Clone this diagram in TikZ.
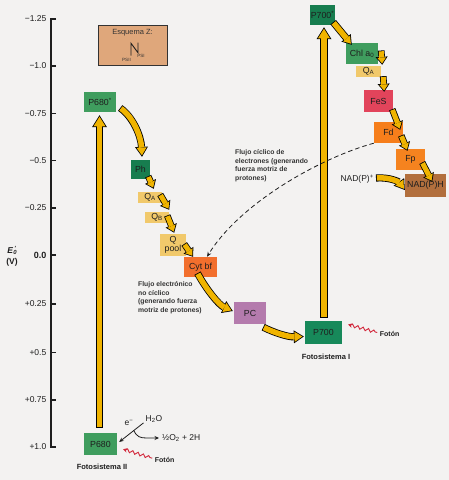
\documentclass[tikz,border=0pt]{standalone}
\usepackage{fontspec}
\setmainfont{Liberation Sans}
\usetikzlibrary{arrows.meta,decorations.pathmorphing,calc}
\definecolor{bgc}{HTML}{F3F2F1}
\definecolor{ygold}{HTML}{F0B400}
\definecolor{gA}{HTML}{3F9D5E}
\definecolor{gB}{HTML}{177D4F}
\definecolor{gC}{HTML}{17895A}
\definecolor{qy}{HTML}{F1C96B}
\definecolor{cytc}{HTML}{F26F2D}
\definecolor{pcc}{HTML}{B47BAD}
\definecolor{fesc}{HTML}{E2445B}
\definecolor{fdc}{HTML}{F67E1B}
\definecolor{fpc}{HTML}{F5831F}
\definecolor{nadc}{HTML}{B26F3D}
\definecolor{esqc}{HTML}{DFA77B}
\definecolor{phr}{HTML}{D2283C}
\definecolor{txt}{HTML}{1E1E1E}
\definecolor{gtx}{HTML}{333333}
\def\ow{0.8}
\newcommand\fat[4]{%
 \pgfmathsetmacro\fatS{\ow/sin(atan(#2/(2*#3)))}%
 \pgfmathsetmacro\fatL{#3-\ow-\fatS}%
 \pgfmathsetmacro\fatW{#2*\fatL/#3}%
 \pgfmathsetmacro\fatO{#1+2*\ow}%
 \draw[line width=\fatO pt, draw=black, -{Triangle[length=#3pt,width=#2pt,line width=0pt]}] #4;
 \draw[line width=#1pt, draw=ygold, shorten <=\ow pt, shorten >=\fatS pt, -{Triangle[length=\fatL pt,width=\fatW pt,line width=0pt]}] #4;
}
\tikzset{
 box/.style={rectangle, inner sep=0pt, text=txt, font=\fontsize{8.8}{9.5}\selectfont},
 axl/.style={anchor=east, inner sep=0pt, text=txt, font=\fontsize{8.5}{9.5}\selectfont},
 note/.style={anchor=north west, align=left, inner sep=0pt, text=gtx, font=\bfseries\fontsize{6.8}{8.6}\selectfont},
 lbl/.style={inner sep=1pt, text=txt, font=\fontsize{8.5}{9.5}\selectfont},
 fsys/.style={inner sep=0pt, text=txt, font=\bfseries\fontsize{7.5}{9}\selectfont},
 foton/.style={anchor=west, inner sep=0pt, text=txt, font=\bfseries\fontsize{7}{8}\selectfont},
 wave/.style={draw=phr, line width=0.9pt, decorate, decoration={snake, amplitude=1.5pt, segment length=5.5pt, pre length=2.5pt, post length=0.5pt}, {Stealth[length=4pt,width=4.5pt]}-},
 axis/.style={line width=1.1pt, draw=txt},
 thin/.style={line width=0.8pt, draw=txt, -{Stealth[length=4.5pt,width=4pt]}}
}
\begin{document}
\begin{tikzpicture}[x=1pt,y=-1pt]
\useasboundingbox (0,0) rectangle (449,480);
\fill[bgc] (0,0) rectangle (449,480);

% axis
\draw[axis] (56,19) -- (51,19) -- (51,447) -- (56,447);
\foreach \yy in {66,113.5,160.5,208,255,304,352.5,400} \draw[axis] (51,\yy) -- (56,\yy);
\foreach \yy/\tt in {19/−1.25,66/−1.0,113.5/−0.75,160.5/−0.5,208/−0.25,304/+0.25,352.5/+0.5,400/+0.75,447/+1.0}
  \node[axl] at (46.5,\yy) {\tt};
\node[axl, font=\bfseries\fontsize{9}{10}\selectfont] at (46.5,255) {0.0};
\node[inner sep=0pt, text=txt, font=\bfseries\fontsize{8.5}{11}\selectfont, align=center] (elab) at (12,256.5) {\textit{E}\rlap{\textsubscript{\textit{0}}}\textsuperscript{\,\textit{′}}\\(V)};

% Esquema Z
\node[box, fill=esqc, draw=black!80, line width=0.9pt, minimum width=69pt, minimum height=40pt] (esq) at (132.5,45) {};
\node[inner sep=0pt, text=gtx, font=\fontsize{7.5}{8}\selectfont] (esqt) at (132.5,32.5) {Esquema Z:};
\draw[line width=0.9pt, draw=txt] (131,55.7) -- (131,43.3) -- (138,52.7) -- (138,42.7);
\node[inner sep=0pt, text=gtx, font=\fontsize{4.6}{5}\selectfont] (psii) at (126.5,59.5) {PSII};
\node[inner sep=0pt, text=gtx, font=\fontsize{4.6}{5}\selectfont] (psi) at (141,56) {PSI};

% boxes
\node[box, fill=gA, minimum width=32pt, minimum height=20pt] (p680s) at (100,102) {P680\textsuperscript{*}};
\node[box, fill=gB, minimum width=19pt, minimum height=19pt] (ph) at (140.5,169.5) {Ph};
\node[box, fill=qy, minimum width=24pt, minimum height=11pt] (qa1) at (150,197.5) {Q\textsubscript{A}};
\node[box, fill=qy, minimum width=24pt, minimum height=11pt] (qb) at (157,217.5) {Q\textsubscript{B}};
\node[box, fill=qy, minimum width=26pt, minimum height=22pt, align=center, font=\fontsize{8.8}{9}\selectfont] (qpool) at (173,245) {Q\\pool};
\node[box, fill=cytc, minimum width=33pt, minimum height=20pt] (cyt) at (200.5,267) {Cyt bf};
\node[box, fill=pcc, minimum width=32pt, minimum height=22pt] (pc) at (250,313) {PC};
\node[box, fill=gC, minimum width=37pt, minimum height=23pt] (p700) at (323.5,332.5) {P700};
\node[box, fill=gB, minimum width=25pt, minimum height=20pt] (p700s) at (322.5,15) {P700\textsuperscript{*}};
\node[box, fill=gA, minimum width=32pt, minimum height=21pt] (chl) at (362,53.5) {Chl a\textsubscript{0}};
\node[box, fill=qy, minimum width=25pt, minimum height=11pt] (qa2) at (368.5,71.5) {Q\textsubscript{A}};
\node[box, fill=fesc, minimum width=29pt, minimum height=22pt] (fes) at (378.5,101) {FeS};
\node[box, fill=fdc, minimum width=29pt, minimum height=21pt] (fd) at (388.5,132.5) {Fd};
\node[box, fill=fpc, minimum width=29pt, minimum height=21pt] (fp) at (410.5,159.5) {Fp};
\node[box, fill=nadc, minimum width=41pt, minimum height=23pt] (nadph) at (425.5,185.5) {NAD(P)H};
\node[box, fill=gA, minimum width=33pt, minimum height=22pt] (p680) at (100.5,444) {P680};
\node[lbl, anchor=east] (nadp) at (375,179) {NAD(P)\textsuperscript{+}};

% labels
\node[fsys] (fs2) at (102,467) {Fotosistema II};
\node[fsys] (fs1) at (326,357) {Fotosistema I};
\node[note] (cyc) at (235,149.6) {Flujo cíclico de\\electrones (generando\\fuerza motriz de\\protones)};
\node[note] (ncyc) at (138,281.6) {Flujo electrónico\\no cíclico\\(generando fuerza\\motriz de protones)};

% big vertical arrows
\fat{5.5}{15}{12}{($(p680.north)+(-1,-5)$) -- ($(p680s.south)+(-0.5,3)$)}
\fat{5.5}{15}{12}{($(p700.north)+(0.5,-3)$) -- ($(p700s.south)+(1.5,2)$)}

% curved arrows
\fat{5.5}{13}{10}{($(p680s.east)+(4,6)$) .. controls (133,117) and (141,136) .. ($(ph.north)+(1.5,-3)$)}
\fat{5.5}{13}{10}{($(cyt.south)+(-3,-4)$) .. controls (206,289) and (219,305) .. ($(pc.west)+(-1,-2)$)}
\fat{5.5}{13}{10}{($(pc.south east)+(-3,3)$) .. controls (275,333) and (288,337) .. ($(p700.west)+(-1,4)$)}
\fat{5.5}{13}{10}{($(nadp.east)+(1,-1)$) .. controls (390,177) and (399,182) .. ($(nadph.west)+(0,4.5)$)}

% chain arrows
\fat{5}{12}{8}{($(ph.south east)+(-2,-3)$) -- ($(qa1.north east)+(-8.5,-3)$)}
\fat{5}{12}{8}{($(qa1.east)+(-2,-3)$) -- ($(qb.north east)+(0,-2)$)}
\fat{5}{12}{8}{($(qb.east)+(-2,-2)$) -- ($(qpool.north east)+(-12,-1)$)}
\fat{5}{12}{8}{($(qpool.east)+(-2,-1)$) -- ($(cyt.north)+(-7.5,0)$)}
\fat{5.5}{12}{9}{($(p700s.south east)+(-2,-3)$) -- ($(chl.north west)+(6,2)$)}
\fat{5}{12}{8}{($(chl.east)+(3,-3)$) -- ($(qa2.north east)+(1,-1)$)}
\fat{5}{12}{8}{($(qa2.south east)+(2,-1)$) -- ($(fes.north east)+(-9,2)$)}
\fat{5}{12}{8}{($(fes.south east)+(-1,-3)$) -- ($(fd.north east)+(-3,8)$)}
\fat{5}{12}{8}{($(fd.east)+(-2,3)$) -- ($(fp.north)+(-3,2)$)}
\fat{5}{12}{8}{($(fp.east)+(-3,3)$) -- ($(nadph.north east)+(-14,8)$)}

% cyclic dashed flow
\draw[line width=0.8pt, draw=txt, dash pattern=on 4.5pt off 3pt, -{Stealth[length=5pt,width=4pt]}] (fd.south west) .. controls (320,158) and (240,203) .. ($(cyt.north)+(6.5,0)$);

% water splitting
\node[lbl] (h2o) at (154,419) {H\textsubscript{2}O};
\node[lbl] (em) at (129,423) {e\textsuperscript{−}};
\node[lbl, anchor=west] (o2) at (161,438) {½O\textsubscript{2} + 2H};
\coordinate (ws) at ($(h2o.south west)+(-1,-1)$);
\coordinate (we) at ($(p680.east)+(2,-2)$);
\draw[thin] (ws) -- (we);
\coordinate (pr) at ($(ws)!0.4!(we)$);
\draw[thin] (pr) .. controls (137,437) and (140,438) .. (147,438) -- ($(o2.west)+(-2,0)$);

% photons
\coordinate (wa2) at ($(p680.south east)+(6,-6)$);
\coordinate (wb2) at ($(wa2)+(29,9)$);
\draw[wave] (wa2) -- (wb2);
\node[foton] (ft2) at ($(wb2)+(2.5,2)$) {Fotón};
\coordinate (wa1) at ($(p700.east)+(6,-8)$);
\coordinate (wb1) at ($(wa1)+(29,8)$);
\draw[wave] (wa1) -- (wb1);
\node[foton] (ft1) at ($(wb1)+(2.5,1)$) {Fotón};
\end{tikzpicture}
\end{document}
